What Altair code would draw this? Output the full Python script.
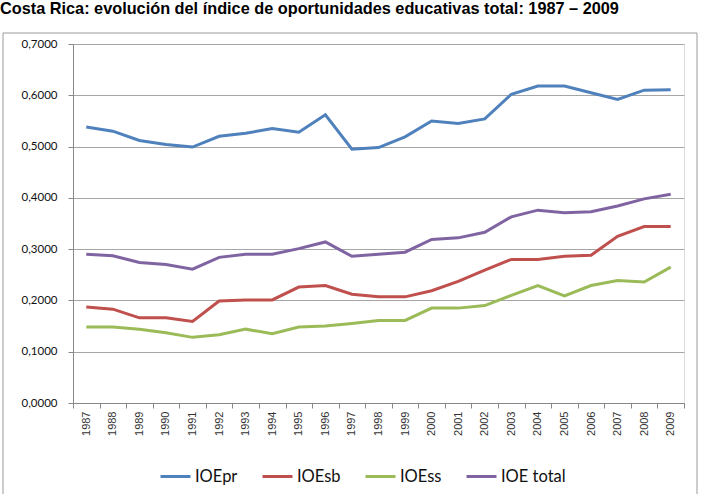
import altair as alt
import pandas as pd

years = [str(y) for y in range(1987, 2010)]
ioe_pr = [0.538, 0.530, 0.512, 0.504, 0.499, 0.520, 0.526, 0.535, 0.528, 0.562,
          0.495, 0.498, 0.519, 0.550, 0.545, 0.554, 0.602, 0.618, 0.618, 0.605,
          0.592, 0.610, 0.611]
ioe_sb = [0.187, 0.183, 0.166, 0.166, 0.159, 0.199, 0.201, 0.201, 0.226, 0.229,
          0.212, 0.207, 0.207, 0.219, 0.237, 0.259, 0.280, 0.280, 0.286, 0.288,
          0.325, 0.344, 0.344]
ioe_ss = [0.148, 0.148, 0.144, 0.137, 0.128, 0.133, 0.144, 0.135, 0.148, 0.150,
          0.155, 0.161, 0.161, 0.185, 0.185, 0.190, 0.210, 0.229, 0.209, 0.229,
          0.239, 0.236, 0.265]
ioe_total = [0.290, 0.287, 0.274, 0.270, 0.261, 0.284, 0.290, 0.290, 0.301, 0.314,
             0.286, 0.290, 0.294, 0.319, 0.322, 0.333, 0.363, 0.376, 0.371, 0.373,
             0.384, 0.398, 0.407]

series_names = ["IOEpr", "IOEsb", "IOEss", "IOE total"]
series_colors = ["#4F81BD", "#C0504D", "#9BBB59", "#8064A2"]
series_values = [ioe_pr, ioe_sb, ioe_ss, ioe_total]

rows = []
for name, vals in zip(series_names, series_values):
    for yr, v in zip(years, vals):
        rows.append({"year": yr, "value": v, "serie": name})
df = pd.DataFrame(rows)

title_text = "Costa Rica: evolución del índice de oportunidades educativas total: 1987 – 2009"

lines = alt.Chart(df).mark_line(strokeWidth=3).encode(
    x=alt.X("year:N", sort=years, bandPosition=0.5,
            scale=alt.Scale(type="band", paddingInner=0, paddingOuter=0),
            axis=alt.Axis(title=None, labelAngle=270, labelAlign="right",
                          labelBaseline="middle", tickBand="extent",
                          labelFont="Liberation Sans", labelFontSize=11,
                          labelColor="#333333", labelPadding=3,
                          tickSize=5, tickColor="#888888",
                          domainColor="#888888", grid=False)),
    y=alt.Y("value:Q", scale=alt.Scale(domain=[0, 0.7], nice=False),
            axis=alt.Axis(title=None, values=[0, 0.1, 0.2, 0.3, 0.4, 0.5, 0.6, 0.7],
                          labelExpr="replace(format(datum.value, '.4f'), '.', ',')",
                          labelFont="Lato", labelFontSize=11.5, labelColor="#111111",
                          labelPadding=11, tickSize=5, tickColor="#888888",
                          domainColor="#888888", gridColor="#a6a6a6")),
    color=alt.Color("serie:N", sort=series_names,
                    scale=alt.Scale(domain=series_names, range=series_colors),
                    legend=alt.Legend(title=None, orient="none", direction="horizontal",
                                      legendX=86, legendY=416,
                                      symbolType="stroke", symbolSize=900,
                                      symbolStrokeWidth=3, labelFont="Lato",
                                      labelFontSize=16.5, labelColor="#111111",
                                      labelOffset=3, columnPadding=18)),
)

frame = alt.Chart(alt.Data(values=[{"a": 1}])).mark_rect(
    fillOpacity=0, stroke="#9a9a9a", strokeWidth=1
).encode(x=alt.value(-70), x2=alt.value(624), y=alt.value(-11), y2=alt.value(460))

title_mark = alt.Chart(alt.Data(values=[{"t": title_text}])).mark_text(
    align="left", baseline="alphabetic", font="Liberation Sans", fontSize=16.3,
    fontWeight="bold", color="#000000"
).encode(text="t:N", x=alt.value(-73), y=alt.value(-30))

chart = alt.layer(frame, lines, title_mark).properties(
    width=611, height=359,
    padding={"left": 73, "top": 44, "right": 20, "bottom": 91},
    autosize=alt.AutoSizeParams(type="none"),
).configure_view(stroke=None).configure(background="white")

chart.save("out.html", embed_options={"renderer": "svg", "actions": False})
